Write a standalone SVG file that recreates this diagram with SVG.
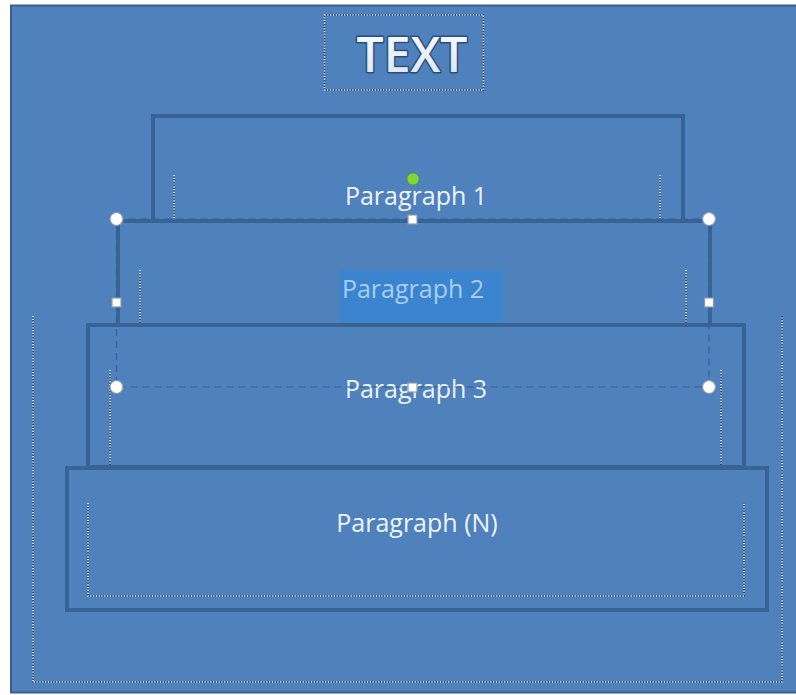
<svg xmlns="http://www.w3.org/2000/svg" width="796" height="695" viewBox="0 0 796 695">
<defs>
<style>
.tier{fill:#4f81bd;stroke:#3a6395;stroke-width:4}
.dotd{fill:none;stroke:#25456c;stroke-width:1.6}
.dotw{fill:none;stroke:#f4f7fb;stroke-width:1.6;stroke-dasharray:1.2 1.6}
.ptext{font-family:"Open Sans","Noto Sans",sans-serif;font-size:25px;fill:#eef3fa;text-anchor:middle}
.sel{fill:none;stroke:#35608f;stroke-width:1.2;stroke-dasharray:7 5}
.hc{fill:#ffffff;stroke:#8a9aae;stroke-width:1.2}
</style>
<linearGradient id="tg" x1="0" y1="0" x2="0" y2="1">
<stop offset="0" stop-color="#ffffff"/>
<stop offset="1" stop-color="#d3e3f4"/>
</linearGradient>
</defs>
<rect x="0" y="0" width="796" height="695" fill="#ffffff"/>
<rect x="11" y="5.5" width="790" height="687" fill="#4f81bd" stroke="#3b5f8c" stroke-width="2"/>

<g id="outer-frame">
<path class="dotd" d="M33,316 V682 H782 V316"/>
<path class="dotw" d="M33,316 V682 H782 V316"/>
</g>

<g id="title">
<rect class="dotd" x="324.5" y="15" width="159" height="75"/>
<rect class="dotw" x="324.5" y="15" width="159" height="75"/>
<text x="412" y="72" text-anchor="middle" font-family="'Open Sans','Noto Sans',sans-serif" font-weight="600" font-size="48" fill="url(#tg)" stroke="#2b4d78" stroke-width="3" paint-order="stroke" stroke-linejoin="round">TEXT</text>
</g>

<g id="tier1">
<rect class="tier" x="153" y="116" width="530" height="106"/>
<path class="dotd" d="M174,175 V220 M660,175 V220"/>
<path class="dotw" d="M174,175 V220 M660,175 V220"/>
<text class="ptext" x="416" y="205">Paragraph 1</text>
</g>

<g id="tier2">
<rect class="tier" x="118" y="221" width="592" height="104"/>
<rect x="340" y="270" width="163" height="52" fill="#3b84cf"/>
<path class="dotd" d="M140,270 V323 M686,270 V323"/>
<path class="dotw" d="M140,270 V323 M686,270 V323"/>
<text class="ptext" x="413" y="298" style="fill:#a9cdf2">Paragraph 2</text>
</g>

<g id="tier3">
<rect class="tier" x="88" y="325" width="656" height="142"/>
<path class="dotd" d="M110,370 V465 M721,370 V465"/>
<path class="dotw" d="M110,370 V465 M721,370 V465"/>
<text class="ptext" x="416" y="398">Paragraph 3</text>
</g>

<g id="tier4">
<rect class="tier" x="67" y="468" width="700" height="142"/>
<path class="dotd" d="M88,503 V596 H744 V503"/>
<path class="dotw" d="M88,503 V596 H744 V503"/>
<text class="ptext" x="417" y="532">Paragraph (N)</text>
</g>

<g id="connectors"></g>

<g id="selection">
<rect class="sel" x="116.5" y="219" width="592.5" height="168"/>
<circle class="hc" cx="116.5" cy="219" r="6.5"/>
<circle class="hc" cx="709" cy="219" r="6.5"/>
<circle class="hc" cx="116.5" cy="387" r="6.5"/>
<circle class="hc" cx="709" cy="387" r="6.5"/>
<rect class="hc" x="112" y="298" width="9" height="9"/>
<rect class="hc" x="704.5" y="298" width="9" height="9"/>
<rect class="hc" x="408" y="215" width="9" height="9"/>
<rect class="hc" x="408" y="383" width="9" height="9"/>
<circle cx="413" cy="179" r="6" fill="#7ed83b" stroke="#5ea32a" stroke-width="1"/>
</g>
</svg>
